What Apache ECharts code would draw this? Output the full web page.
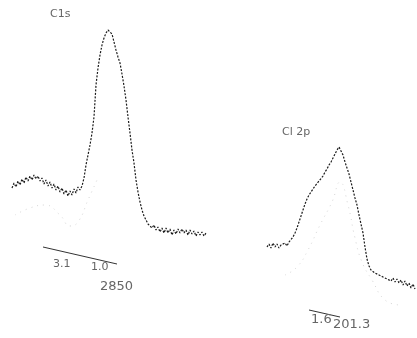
<!DOCTYPE html>
<html>
<head>
<meta charset="utf-8">
<script src="https://cdn.jsdelivr.net/npm/echarts@6/dist/echarts.min.js"></script>
<style>
  html, body { margin: 0; padding: 0; background: #fff; }
  #chart { width: 417px; height: 338px; }
</style>
</head>
<body>
<div id="chart"></div>
<script>
// C1s spectrum, channel 6 onward, one count per channel
var c1sStart = 6;
var c1sCounts = [26, 28.5, 26.5, 29.5, 27.5, 30.5, 28.5, 31.5, 29.5, 32, 30, 32.5, 30.5, 32, 29.5, 31,
  28, 30, 27, 29, 26, 28, 25, 27, 24, 26, 23, 25, 22, 24.5, 22.5, 25.5, 23.5, 26.5, 25, 27,
  31, 37.5, 42.5, 47.5, 53.5, 61.5, 77.5, 86, 92.5, 97.5, 101, 103.5, 105, 106,
  103, 99, 95, 91.5, 88.5, 83, 77, 70, 61.5, 53.5, 45, 38.5, 30, 24, 19, 15, 12, 10, 8,
  9, 6, 7.5, 5, 6.5, 4, 6, 3.5, 6, 3.5, 5.5, 2.5, 5, 3, 5.5, 3.5, 5.5, 3.5, 5, 2.5, 5, 3,
  4.5, 2, 4, 2.5, 4, 2, 3.5];
// faint component under C1s
var c1sFaint = [[7.5, 12.5], [15, 16], [22.5, 17.5], [30, 12.5], [35, 7], [39, 9], [44, 20], [48.5, 30]];
// Cl 2p spectrum, channel 8 onward
var cl2pStart = 8;
var cl2pCounts = [-3.5, -2, -4, -1.5, -3.5, -2, -4, -2.5, -3.5, -1.5, -3, -1, -1.5, 1.5, 3.5, 6, 9,
  12, 15, 18, 20.5, 22.5, 24, 25.5, 27, 28, 29.5, 30.5, 32, 34, 35.5, 37.5, 39, 41, 43, 45, 46.5,
  46, 42.5, 39, 36, 33, 29, 25, 21, 17.5, 12.5, 8, 3.5, -3.5, -9.5, -13, -15, -14, -16.5,
  -15.5, -17.5, -16.5, -18.5, -17.5, -19.5, -18.5, -20.5, -19, -21, -19.5, -21.5, -20, -22.5,
  -20.5, -23, -21.5, -24, -22, -24.5];
var cl2pFaint = [[17, -17.5], [23, -13.5], [28.5, -5], [34.5, 7.5], [40.5, 19], [44.5, 29], [48.5, 17.5],
  [52, 1], [55.5, -11], [60.5, -20], [67, -30], [74.5, -32.5]];
// scale bars
var c1sBar = [[21.5, -3.5], [58.5, -12]];
var cl2pBar = [[29, -35], [44.5, -38.5]];
// text
var labels = ['C1s', 'Cl 2p', '3.1', '1.0', '2850', '1.6', '201.3'];

function toPairs(start, arr) {
  return arr.map(function (v, i) { return [start + i, v]; });
}

var chart = echarts.init(document.getElementById('chart'));

var txt = { fontFamily: 'DejaVu Sans', fontWeight: 'normal', color: '#666', fontSize: 12 };
var titlePos = [[50, 9], [282, 127], [53, 259], [91, 262], [100, 280], [311, 313], [333, 318]];
var titles = labels.map(function (t, i) {
  return {
    text: t, left: titlePos[i][0], top: titlePos[i][1], padding: 0,
    textStyle: Object.assign({}, txt, { fontSize: i >= 4 ? 13 : 11 })
  };
});

var hidden = { show: false };
function axisX(idx, max) {
  return { type: 'value', gridIndex: idx, min: 0, max: max, show: false, splitLine: hidden };
}
function axisY(idx) {
  return { type: 'value', gridIndex: idx, min: -49, max: 110, show: false, splitLine: hidden };
}

var main = { color: '#1a1a1a', width: 1.2, type: [2, 1.5] };
var faint = { color: '#d6d6d6', width: 1, type: [1, 5] };

var option = {
  backgroundColor: '#fff',
  animation: false,
  title: titles,
  grid: [
    { left: 0, top: 20, width: 210, height: 318, outerBoundsMode: 'none' },
    { left: 251, top: 20, width: 166, height: 318, outerBoundsMode: 'none' }
  ],
  xAxis: [axisX(0, 105), axisX(1, 83)],
  yAxis: [axisY(0), axisY(1)],
  series: [
    { type: 'line', xAxisIndex: 0, yAxisIndex: 0, data: toPairs(c1sStart, c1sCounts), showSymbol: false, lineStyle: main },
    { type: 'line', xAxisIndex: 0, yAxisIndex: 0, data: c1sFaint, showSymbol: false, smooth: true, lineStyle: faint },
    { type: 'line', xAxisIndex: 0, yAxisIndex: 0, data: c1sBar, showSymbol: false, lineStyle: { color: '#333', width: 1 } },
    { type: 'line', xAxisIndex: 1, yAxisIndex: 1, data: toPairs(cl2pStart, cl2pCounts), showSymbol: false, lineStyle: main },
    { type: 'line', xAxisIndex: 1, yAxisIndex: 1, data: cl2pFaint, showSymbol: false, smooth: true, lineStyle: faint },
    { type: 'line', xAxisIndex: 1, yAxisIndex: 1, data: cl2pBar, showSymbol: false, lineStyle: { color: '#333', width: 1 } }
  ]
};

chart.setOption(option);
</script>
</body>
</html>
